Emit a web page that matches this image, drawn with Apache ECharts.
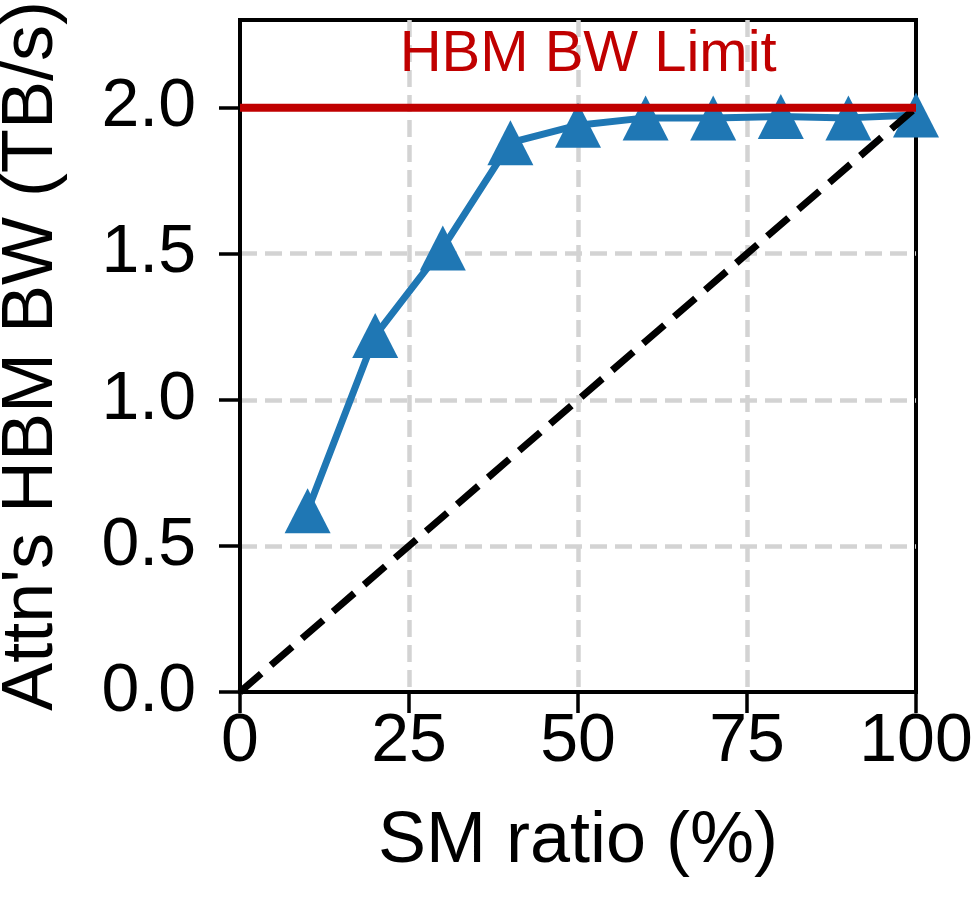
<!DOCTYPE html>
<html>
<head>
<meta charset="utf-8">
<script src="https://cdn.jsdelivr.net/npm/echarts@6/dist/echarts.min.js"></script>
<style>
  html, body { margin: 0; padding: 0; background: #fff; }
  #chart { width: 975px; height: 898px; }
</style>
</head>
<body>
<div id="chart"></div>
<script>
// SM ratio (%) vs measured attention HBM bandwidth (TB/s)
var smRatio = [10, 20, 30, 40, 50, 60, 70, 80, 90, 100];
var attnBW = [0.62, 1.22, 1.52, 1.88, 1.94, 1.965, 1.965, 1.97, 1.965, 1.975];

// ideal linear scaling line
var idealX = [0, 100];
var idealY = [0, 2.0];

// hardware limit
var hbmLimit = 2.0;
var limitText = 'HBM BW Limit';
var limitTextPos = [51.5, 2.08];

var yTicks = [0, 0.5, 1.0, 1.5, 2.0];
var xTicks = [0, 25, 50, 75, 100];

var fontFamily = "'Liberation Sans', Arial, sans-serif";

var chart = echarts.init(document.getElementById('chart'), null, { renderer: 'canvas' });

function pairs(xs, ys) {
    var out = [];
    for (var i = 0; i < xs.length; i++) {
        out.push([xs[i], ys[i]]);
    }
    return out;
}

var gridLine = { color: '#d3d3d3', width: 4.5, type: [17, 8] };

var option = {
    animation: false,
    backgroundColor: '#fff',
    grid: {
        left: 240,
        right: 59,
        top: 20,
        bottom: 206,
        outerBoundsMode: 'none',
        containLabel: false,
        show: true,
        borderColor: '#000',
        borderWidth: 4,
        backgroundColor: 'transparent'
    },
    xAxis: {
        type: 'value',
        min: 0,
        max: 100,
        interval: 25,
        name: 'SM ratio (%)',
        nameLocation: 'middle',
        nameGap: 114,
        nameTextStyle: { fontFamily: fontFamily, fontSize: 72, color: '#000' },
        axisLine: { show: true, lineStyle: { color: '#000', width: 4 } },
        axisTick: { show: true, inside: false, length: 21, lineStyle: { color: '#000', width: 3.5 } },
        axisLabel: {
            fontFamily: fontFamily, fontSize: 68, color: '#000', margin: 16,
            customValues: xTicks
        },
        splitLine: { show: true, showMinLine: false, showMaxLine: false, lineStyle: gridLine }
    },
    yAxis: {
        type: 'value',
        min: 0,
        max: 2.3,
        interval: 0.5,
        name: "Attn's HBM BW (TB/s)",
        nameLocation: 'middle',
        nameRotate: 90,
        nameGap: 172,
        nameTextStyle: { fontFamily: fontFamily, fontSize: 72, color: '#000' },
        axisLine: { show: true, lineStyle: { color: '#000', width: 4 } },
        axisTick: {
            show: true, inside: false, length: 21, lineStyle: { color: '#000', width: 3.5 },
            customValues: yTicks
        },
        axisLabel: {
            fontFamily: fontFamily, fontSize: 68, color: '#000', margin: 44,
            customValues: yTicks,
            formatter: function (v) { return v.toFixed(1); }
        },
        splitLine: { show: true, showMinLine: false, showMaxLine: false, lineStyle: gridLine }
    },
    series: [
        {
            name: 'Attn BW',
            type: 'line',
            data: pairs(smRatio, attnBW),
            symbol: 'triangle',
            symbolSize: [46, 45],
            itemStyle: { color: '#1f77b4' },
            lineStyle: { color: '#1f77b4', width: 7 },
            z: 2
        },
        {
            name: 'Ideal',
            type: 'line',
            data: pairs(idealX, idealY),
            symbol: 'none',
            lineStyle: { color: '#000', width: 7, type: [28, 13] },
            z: 3
        },
        {
            name: 'HBM limit',
            type: 'line',
            data: [[0, hbmLimit], [100, hbmLimit]],
            symbol: 'none',
            lineStyle: { color: '#c00000', width: 8 },
            z: 4
        }
    ]
};

chart.setOption(option);

// annotation text placed in data coordinates
var p = chart.convertToPixel({ gridIndex: 0 }, limitTextPos);
chart.setOption({
    graphic: [{
        type: 'text',
        x: p[0],
        y: p[1],
        z: 10,
        style: {
            text: limitText,
            fill: '#c00000',
            font: '58px ' + fontFamily,
            textAlign: 'center',
            textVerticalAlign: 'bottom'
        }
    }]
});
</script>
</body>
</html>
